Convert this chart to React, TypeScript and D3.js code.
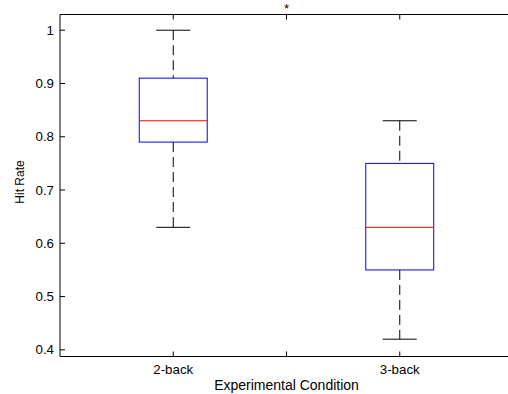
import React from "react";
import * as d3 from "d3";

const categories = ["2-back", "3-back"];
const whiskerLow = [0.63, 0.42];
const q1 = [0.79, 0.55];
const medians = [0.83, 0.63];
const q3 = [0.91, 0.75];
const whiskerHigh = [1.0, 0.83];
const yTicks = [0.4, 0.5, 0.6, 0.7, 0.8, 0.9, 1];
const xTicks = [1, 1.5, 2];

const W = 508;
const H = 394;
const left = 60;
const right = 513;
const top = 14.5;
const bottom = 356.5;
const font = "Arial, 'Liberation Sans', Helvetica, sans-serif";
const fs = 13.3;

export default function App() {
  const x = d3.scaleLinear().domain([0.5, 2.5]).range([left, right]);
  const y = d3.scaleLinear().domain([0.3875, 1.0295]).range([bottom, top]);
  const boxHalf = 0.15;
  const capHalf = 0.075;
  const tickLen = 5;
  return (
    <svg width={W} height={H} style={{ position: "absolute", left: 0, top: 0, display: "block", background: "#fff" }}>
      <rect x={0} y={0} width={W} height={H} fill="#fff" />
      {/* axes frame */}
      <line x1={left} x2={right} y1={top} y2={top} stroke="#000" strokeWidth={1} />
      <line x1={left} x2={right} y1={bottom} y2={bottom} stroke="#000" strokeWidth={1} />
      <line x1={left} x2={left} y1={top} y2={bottom} stroke="#000" strokeWidth={1} />
      {/* y ticks */}
      {yTicks.map((t) => (
        <g key={t}>
          <line x1={left} x2={left + tickLen} y1={y(t)} y2={y(t)} stroke="#000" />
          <text x={left - 6} y={y(t)} dy="0.35em" textAnchor="end" fontFamily={font} fontSize={fs} fill="#000">
            {d3.format("~g")(t)}
          </text>
        </g>
      ))}
      {/* x ticks */}
      {xTicks.map((t) => (
        <g key={t}>
          <line x1={x(t)} x2={x(t)} y1={bottom} y2={bottom - tickLen} stroke="#000" />
          <line x1={x(t)} x2={x(t)} y1={top} y2={top + tickLen} stroke="#000" />
        </g>
      ))}
      {categories.map((c, i) => (
        <text key={c} x={x(i + 1)} y={bottom + 17} textAnchor="middle" fontFamily={font} fontSize={fs} fill="#000">
          {c}
        </text>
      ))}
      {/* boxes */}
      {categories.map((c, i) => {
        const cx = x(i + 1);
        const bw = x(1 + boxHalf) - x(1);
        const cw = x(1 + capHalf) - x(1);
        return (
          <g key={c}>
            <line x1={cx} x2={cx} y1={y(whiskerHigh[i])} y2={y(q3[i])} stroke="#000" strokeDasharray="10,5" />
            <line x1={cx} x2={cx} y1={y(q1[i])} y2={y(whiskerLow[i])} stroke="#000" strokeDasharray="10,5" />
            <line x1={cx - cw} x2={cx + cw} y1={y(whiskerHigh[i])} y2={y(whiskerHigh[i])} stroke="#000" />
            <line x1={cx - cw} x2={cx + cw} y1={y(whiskerLow[i])} y2={y(whiskerLow[i])} stroke="#000" />
            <rect x={cx - bw} y={y(q3[i])} width={2 * bw} height={y(q1[i]) - y(q3[i])} fill="none" stroke="#0000ff" />
            <line x1={cx - bw} x2={cx + bw} y1={y(medians[i])} y2={y(medians[i])} stroke="#ff0000" />
          </g>
        );
      })}
      {/* significance marker */}
      <text x={x(1.5)} y={top - 2} textAnchor="middle" fontFamily={font} fontSize={fs} fill="#000">*</text>
      {/* axis labels */}
      <text x={(left + right) / 2 - 0} y={bottom + 33} textAnchor="middle" fontFamily={font} fontSize={14} fill="#000">
        Experimental Condition
      </text>
      <text transform={`translate(24,182) rotate(-90)`} textAnchor="middle" fontFamily={font} fontSize={12} fill="#000">
        Hit Rate
      </text>
    </svg>
  );
}
